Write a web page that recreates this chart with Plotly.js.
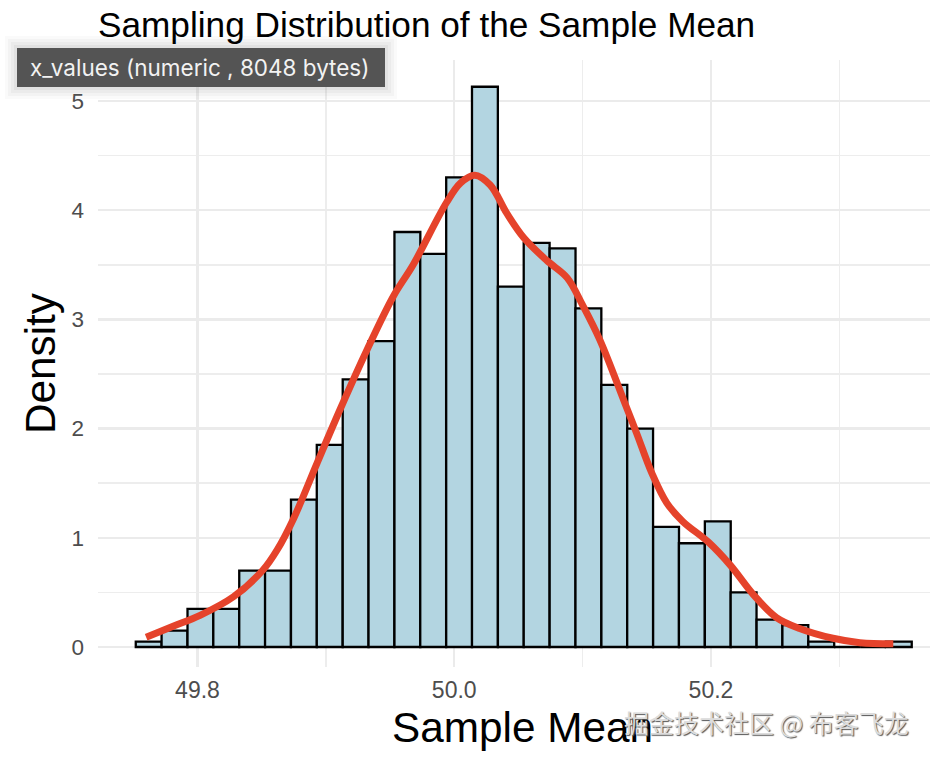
<!DOCTYPE html>
<html>
<head>
<meta charset="utf-8">
<script src="https://cdn.plot.ly/plotly-3.0.1.min.js"></script>
<style>html,body{margin:0;padding:0;background:#fff}#chart{width:930px;height:758px}</style>
</head>
<body>
<div id="chart"></div>
<script>
const binCenters = [49.7620,49.7821,49.8023,49.8224,49.8426,49.8627,49.8829,49.9030,49.9232,49.9433,49.9635,49.9836,50.0038,50.0239,50.0441,50.0642,50.0844,50.1045,50.1247,50.1448,50.1650,50.1851,50.2053,50.2254,50.2456,50.2657,50.2859,50.3060,50.3262,50.3463];
const binDensity = [0.05,0.15,0.35,0.35,0.7,0.7,1.35,1.85,2.45,2.8,3.8,3.6,4.3,5.13,3.3,3.7,3.65,3.1,2.4,2.0,1.1,0.95,1.15,0.5,0.25,0.2,0.05,0,0,0.05];
const curveX = [49.760,49.781,49.802,49.828,49.851,49.862,49.875,49.893,49.912,49.932,49.9525,49.968,49.994,50.005,50.016,50.028,50.041,50.054,50.072,50.088,50.100,50.1135,50.133,50.142,50.154,50.1655,50.178,50.198,50.215,50.233,50.251,50.269,50.295,50.316,50.342];
const curveY = [0.09,0.19,0.29,0.46,0.705,0.888,1.18,1.68,2.20,2.72,3.21,3.50,4.07,4.25,4.32,4.23,3.97,3.75,3.54,3.38,3.13,2.81,2.23,1.96,1.59,1.32,1.15,0.96,0.75,0.48,0.27,0.17,0.08,0.04,0.03];
const xTickVals = [49.8,50.0,50.2];
const xTickText = ['49.8','50.0','50.2'];
const yTickVals = [0,1,2,3,4,5];
const titleText = 'Sampling Distribution of the Sample Mean';
const xTitle = 'Sample Mean';
const yTitle = 'Density';
const badgeText = 'x_values (numeric , 8048 bytes)';
const watermark = '掘金技术社区 @ 布客飞龙';

const W = 930, H = 758, L = 98, T = 60, B = 91;
const px = v => (v - L) / (W - L);
const py = v => 1 - (v - T) / (H - T - B);
const shadowLayers = [[12,0.04],[9,0.05],[6,0.06],[3,0.08]].map(([g,a]) => ({
  type:'rect', xref:'paper', yref:'paper', layer:'above',
  x0:px(17-g), x1:px(385+g), y0:py(87+g), y1:py(48-g),
  fillcolor:`rgba(120,120,120,${a})`, line:{width:0}
}));

const traces = [
  {type:'bar', x:binCenters, y:binDensity, width:0.02015, marker:{color:'#b3d5e1', line:{color:'#000', width:2.3}}, hoverinfo:'skip', cliponaxis:false},
  {type:'scatter', mode:'lines', x:curveX, y:curveY, line:{color:'#e5432b', width:7, shape:'spline', smoothing:1}, hoverinfo:'skip'}
];
const font = 'Liberation Sans, Arial, sans-serif';
const layout = {
  width:W, height:H, showlegend:false, paper_bgcolor:'#fff', plot_bgcolor:'#fff',
  margin:{l:L, r:0, t:T, b:B},
  font:{family:font},
  title:{text:titleText, font:{size:35.2, color:'#000', family:font}, x:L/W, xanchor:'left', y:1-25/H, yanchor:'middle'},
  xaxis:{range:[49.7225,50.3706], tickvals:xTickVals, ticktext:xTickText, tickfont:{size:23,color:'#4d4d4d'}, ticks:'', ticklen:0, ticklabelstandoff:7,
    showgrid:true, gridcolor:'#ebebeb', gridwidth:2.5, zeroline:false, showline:false,
    minor:{tickvals:[49.9,50.1,50.3], showgrid:true, gridcolor:'#ededed', gridwidth:1.7, ticks:''},
    automargin:false},
  yaxis:{range:[-0.183,5.375], tickvals:yTickVals, tickfont:{size:22.5,color:'#4d4d4d'}, ticks:'', ticklen:0, ticklabelstandoff:13,
    showgrid:true, gridcolor:'#ebebeb', gridwidth:2.5, zeroline:false, showline:false,
    minor:{tickvals:[0.5,1.5,2.5,3.5,4.5], showgrid:true, gridcolor:'#ededed', gridwidth:1.7, ticks:''},
    title:{text:yTitle, font:{size:42.3,color:'#000'}, standoff:2}, automargin:false},
  shapes: shadowLayers.concat([{type:'rect', xref:'paper', yref:'paper', layer:'above', x0:px(17), x1:px(385), y0:py(87), y1:py(48), fillcolor:'#545454', line:{width:0}}]),
  annotations:[
    {xref:'paper', yref:'paper', x:px(522), y:py(727), xanchor:'center', yanchor:'middle', showarrow:false, text:xTitle, font:{size:42.3, color:'#000', family:font}},
    {xref:'paper', yref:'paper', x:px(28), y:py(67.5), xanchor:'left', yanchor:'middle', showarrow:false, text:badgeText, font:{size:22.5, color:'#f2f2f2', family:'Inter, Roboto, sans-serif'}},
    {xref:'paper', yref:'paper', x:px(911), y:py(722), xanchor:'right', yanchor:'middle', showarrow:false, text:watermark, font:{size:25, color:'#dcdcdc', family:'Noto Sans CJK SC', shadow:'1px 1px 1px #555'}}
  ]
};
Plotly.newPlot('chart', traces, layout, {displayModeBar:false, staticPlot:true});
</script>
</body>
</html>
